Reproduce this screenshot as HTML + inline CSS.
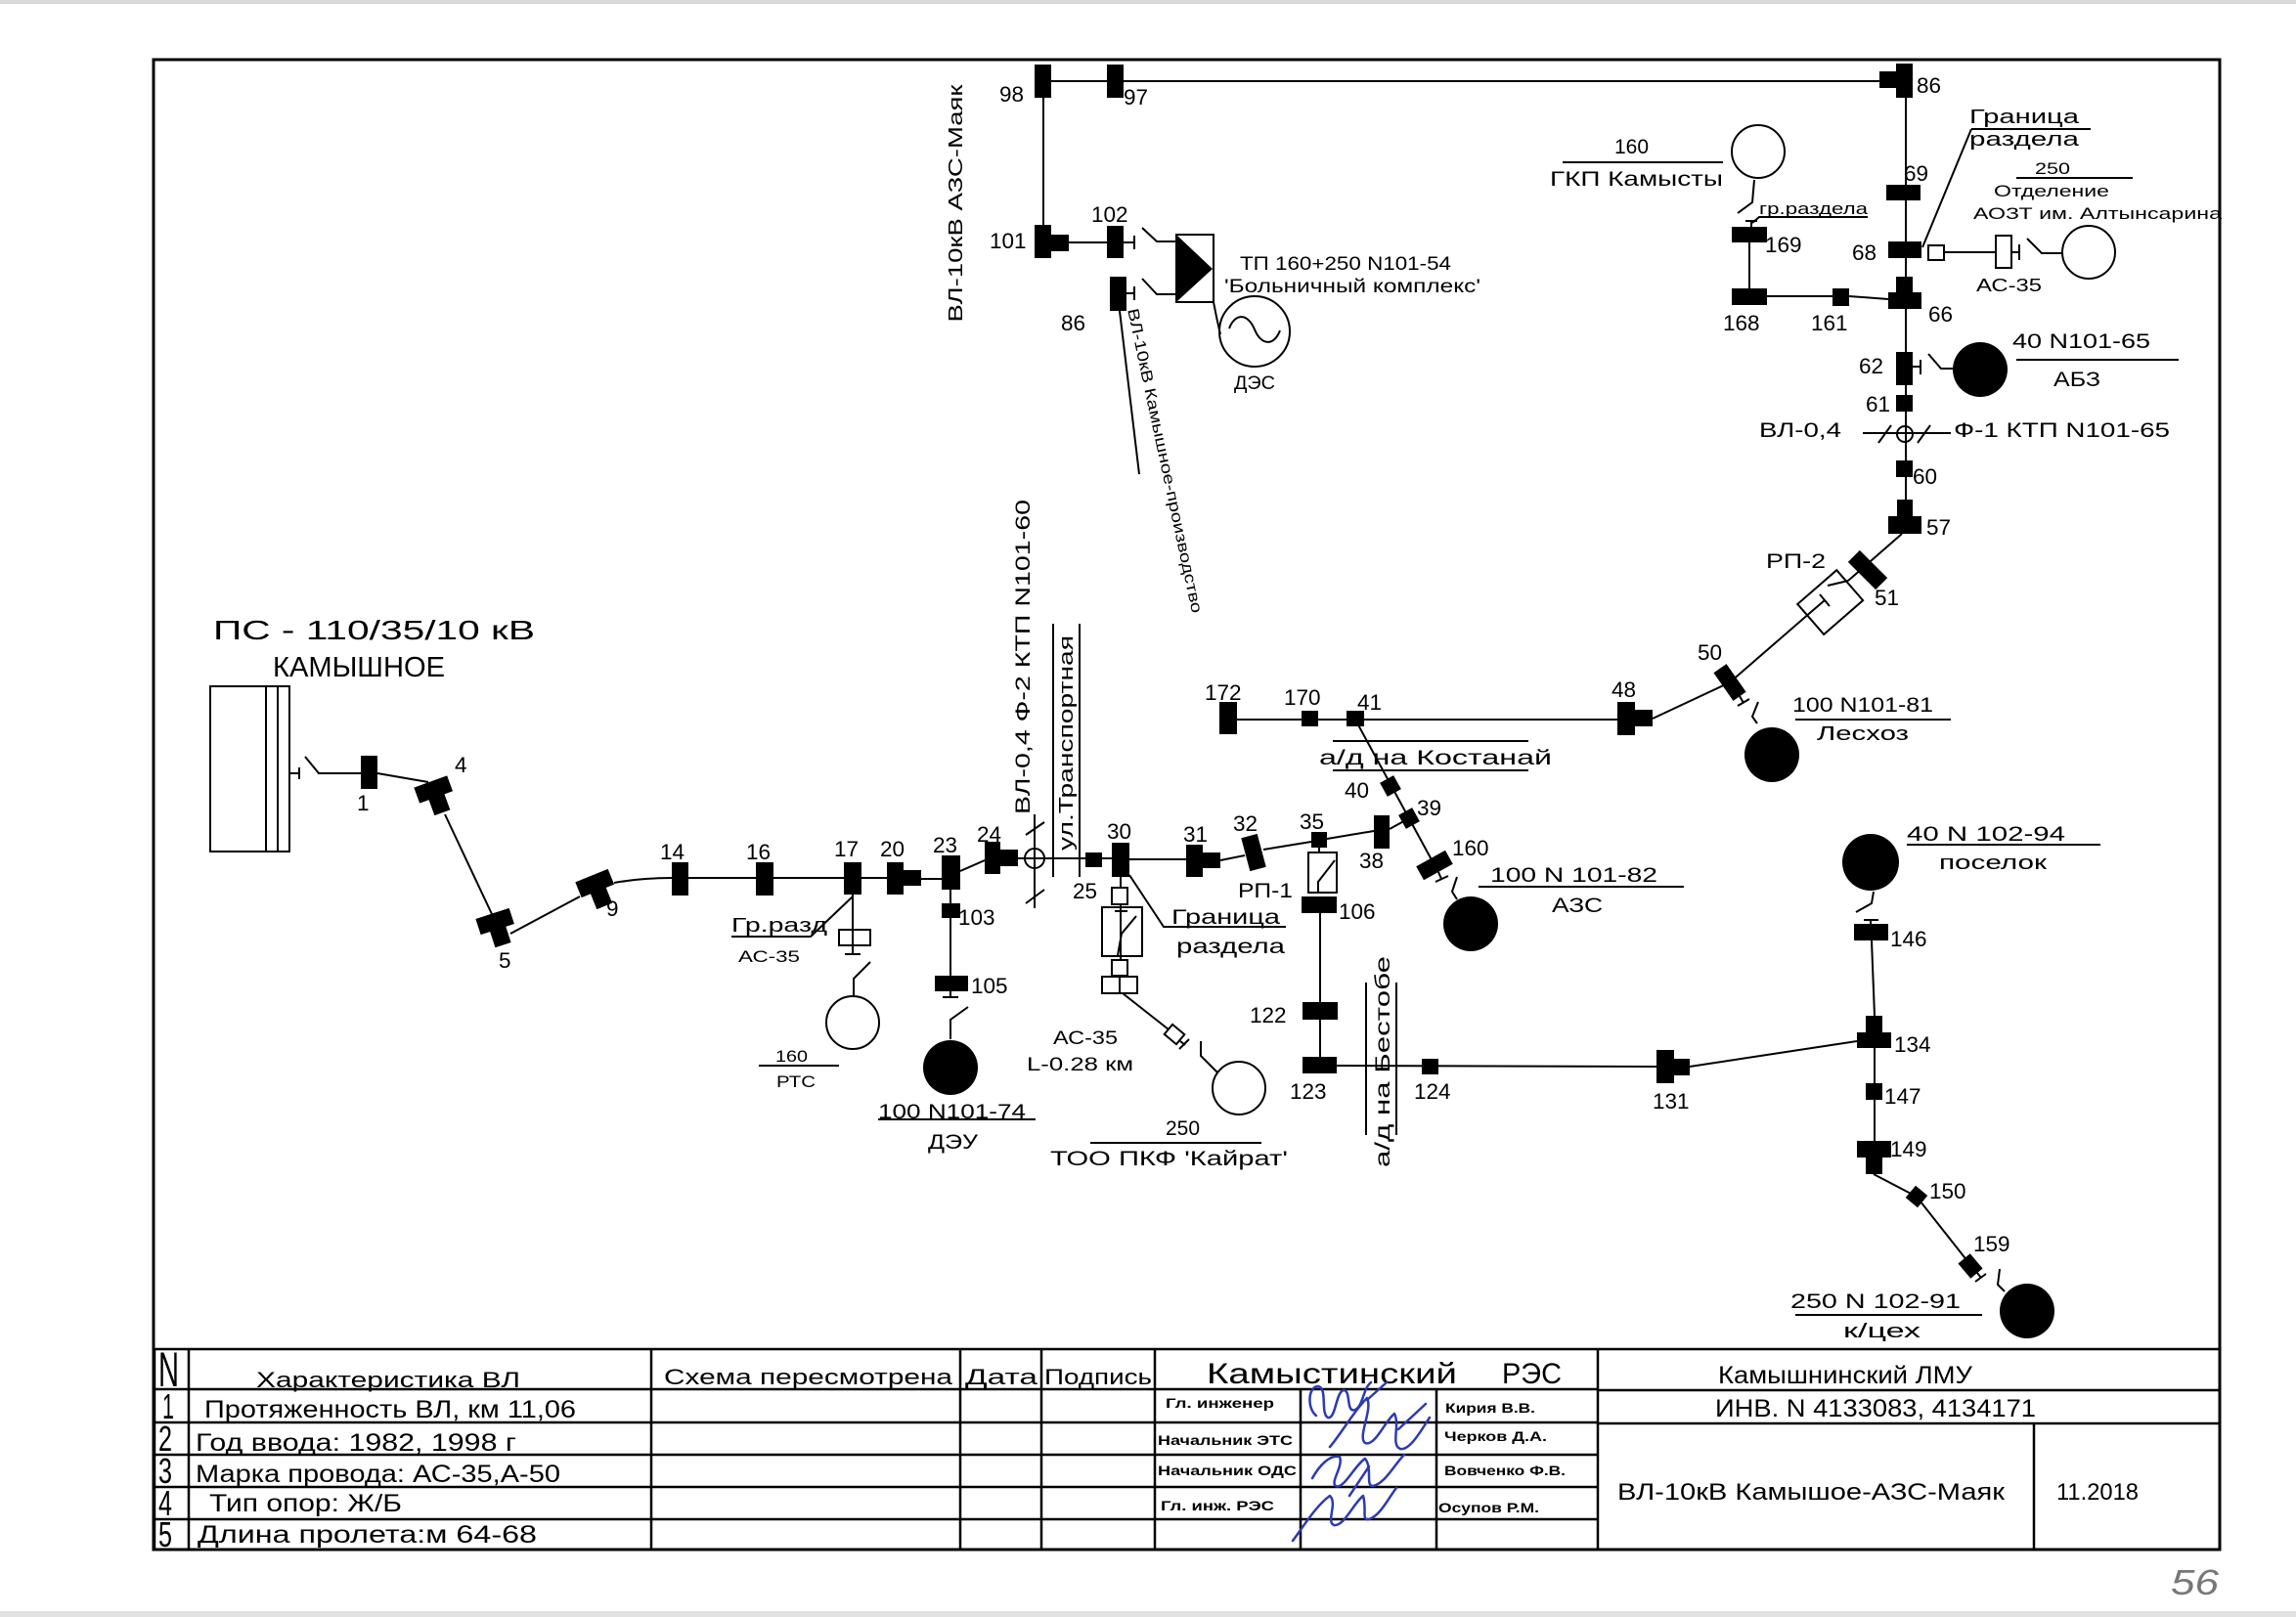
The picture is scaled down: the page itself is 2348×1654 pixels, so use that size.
<!DOCTYPE html>
<html><head><meta charset="utf-8"><style>
html,body{margin:0;padding:0;background:#fff}
svg{display:block}
text{font-family:"Liberation Sans","DejaVu Sans",sans-serif;fill:#000}
.l{stroke:#000;stroke-width:2;fill:none}
.w{stroke:#000;stroke-width:2;fill:#fff}
.b{fill:#000}
.sig{stroke:#2b3bb0;stroke-width:2.5;fill:none;stroke-linecap:round;stroke-linejoin:round}
</style></head><body>
<svg width="2348" height="1654" viewBox="0 0 2348 1654" xmlns="http://www.w3.org/2000/svg">
<rect width="2348" height="1654" fill="#fff"/>
<rect x="0" y="0" width="2348" height="4" fill="#d8d8d8"/>
<rect x="0" y="1648" width="2348" height="6" fill="#e2e2e2"/>
<rect x="157" y="61" width="2113" height="1524" fill="none" stroke="#000" stroke-width="3"/>

<!-- ===== TOP FEEDER ===== -->
<g class="l">
<line x1="1066" y1="83" x2="1945" y2="83"/>
<line x1="1067" y1="100" x2="1067" y2="247"/>
<line x1="1093" y1="248" x2="1140" y2="248"/>
<path d="M1149 248H1160M1160 241V255"/>
<path d="M1168 233L1183 247H1203"/>
<path d="M1152 300H1160M1160 293V307"/>
<path d="M1168 285L1183 301H1203"/>
<rect x="1203" y="240" width="38" height="69"/>
<line x1="1145" y1="318" x2="1165" y2="485"/>
<path d="M1241 309Q1244 325 1248 342"/>
<circle cx="1283" cy="339" r="36"/>
<path d="M1257 336C1263 320 1276 320 1283 337C1290 354 1303 354 1309 338"/>
</g>
<polygon points="1204,241 1240,275 1204,308" class="b"/>
<g class="b">
<rect x="1058" y="66" width="17" height="34"/>
<rect x="1132" y="66" width="17" height="34"/>
<rect x="1058" y="230" width="17" height="34"/><rect x="1075" y="240" width="18" height="17"/>
<rect x="1132" y="231" width="17" height="33"/>
<rect x="1135" y="283" width="17" height="35"/>
</g>

<!-- ===== RIGHT TRUNK ===== -->
<g class="l">
<line x1="1949" y1="100" x2="1949" y2="546"/>
<line x1="1989" y1="258" x2="2065" y2="258"/>
<path d="M2065 250V266"/>
<path d="M2073 244L2088 259H2110"/>
<circle cx="2136" cy="258" r="27"/>
<path d="M2016 132L1966 253M2016 132H2138"/>
<path d="M2062 182H2181"/>
<path d="M1931 306L1891 303"/>
<path d="M1874 303H1807"/>
<path d="M1789 248V295"/>
<path d="M1910 222H1799L1792 228M1785 226H1797M1791 226V232"/>
<path d="M1777 218L1792 207L1794 184"/>
<circle cx="1798" cy="155" r="27"/>
<path d="M1598 166H1762"/>
<path d="M1956 375H1964M1964 368V383"/>
<path d="M1972 362L1985 377H1997"/>
<path d="M2062 368H2228"/>
<circle cx="1948" cy="444" r="8"/>
<path d="M1905 443H1995M1921 453L1934 435M1961 453L1974 435"/>
<path d="M1945 546L1890 594M1890 594L1869 599M1852 626L1866 614M1861 608L1871 620M1852 626L1769 698L1690 735"/>
<rect x="-26" y="-20" width="53" height="41" transform="translate(1871,616) rotate(-41)"/>
<path d="M1779 712L1783 719M1777 722L1789 715"/>
<path d="M1798 718L1792 733L1797 740"/>
<path d="M1836 736H1995"/>
</g>
<g class="w">
<rect x="1972" y="251" width="16" height="15"/>
<rect x="2041" y="241" width="16" height="33"/>
</g>
<g class="b">
<rect x="1939" y="65" width="17" height="35"/><rect x="1922" y="73" width="17" height="17"/>
<rect x="1929" y="189" width="35" height="16"/>
<rect x="1931" y="247" width="34" height="17"/>
<rect x="1939" y="283" width="17" height="17"/><rect x="1931" y="299" width="34" height="17"/>
<rect x="1874" y="295" width="17" height="18"/>
<rect x="1771" y="295" width="36" height="17"/>
<rect x="1771" y="232" width="36" height="16"/>
<rect x="1939" y="360" width="17" height="34"/>
<circle cx="2025" cy="378" r="28"/>
<rect x="1939" y="404" width="17" height="17"/>
<rect x="1939" y="471" width="17" height="17"/>
<rect x="1940" y="511" width="16" height="17"/><rect x="1931" y="528" width="34" height="18"/>
<rect x="-20" y="-8.5" width="40" height="17" transform="translate(1910,583) rotate(45)"/>
<rect x="-17.5" y="-8" width="35" height="16" transform="translate(1769,698) rotate(55)"/>
<circle cx="1812" cy="772" r="28"/>
<rect x="1654" y="718" width="18" height="34"/><rect x="1672" y="726" width="18" height="17"/>
</g>

<!-- ===== MIDDLE BRANCH 172-41-160 ===== -->
<g class="l">
<path d="M1265 736H1654"/>
<path d="M1363 758H1563M1363 788H1563"/>
<path d="M1386 736L1467 885"/>
<path d="M1421 848L1441 837"/>
<path d="M1471 892L1474 899M1468 902L1481 896"/>
<path d="M1490 897L1485 912L1490 920"/>
<path d="M1512 907H1722"/>
</g>
<g class="b">
<rect x="1247" y="718" width="18" height="33"/>
<rect x="1331" y="727" width="17" height="16"/>
<rect x="1377" y="727" width="18" height="16"/>
<rect x="-8" y="-8" width="16" height="16" transform="translate(1422,804) rotate(-29)"/>
<rect x="-8" y="-8" width="16" height="16" transform="translate(1441,837) rotate(-29)"/>
<rect x="-17" y="-8" width="34" height="16" transform="translate(1467,885) rotate(-29)"/>
<circle cx="1504" cy="945" r="28"/>
</g>

<!-- ===== MAIN LINE ===== -->
<rect x="215" y="702" width="81" height="169" class="w"/>
<g class="l">
<path d="M272 702V871M284 702V871"/>
<path d="M296 791H306M306 785V797"/>
<path d="M312 774L326 791H369"/>
<path d="M386 791L438 800"/>
<path d="M455 833L503 935"/>
<path d="M522 955L593 917"/>
<path d="M628 903Q655 898 687 898H907"/>
<path d="M942 899H963"/>
<path d="M982 891L1007 880"/>
<path d="M1041 878H1137"/>
<circle cx="1058" cy="878" r="10"/>
<path d="M1058 833V929M1049 854L1068 841M1049 924L1068 910"/>
<path d="M1077 638V897M1104 638V897"/>
<path d="M1155 879H1213"/>
<path d="M1248 880L1273 875"/>
<path d="M1292 869L1341 861M1357 858L1405 850"/>
<path d="M1342 872H1356M1349 867V872"/>
<rect x="1338" y="872" width="29" height="41"/>
<path d="M1348 913V902L1365 880"/>
<path d="M1350 934V1082"/>
<path d="M1367 1090L1694 1091"/>
<path d="M1397 1005V1161M1428 1005V1161"/>
<path d="M1728 1091L1899 1065"/>
<path d="M1914 962L1917 1039"/>
<path d="M1906 941H1921M1913 941V945"/>
<path d="M1898 933L1914 924L1916 912"/>
<path d="M1950 864H2148"/>
<path d="M1917 1072V1167"/>
<path d="M1916 1201L1960 1224L2016 1295"/>
<path d="M2022 1302L2026 1307M2020 1311L2031 1303"/>
<path d="M2045 1298L2043 1314L2050 1321"/>
<path d="M1836 1345H2027"/>
</g>
<g class="b">
<rect x="369" y="773" width="17" height="34"/>
<g transform="translate(443,807) rotate(-20)"><rect x="-18" y="-8" width="36" height="17"/><rect x="-8" y="8" width="17" height="18"/></g>
<g transform="translate(506,942) rotate(-18)"><rect x="-18" y="-8" width="36" height="17"/><rect x="-8" y="8" width="17" height="18"/></g>
<g transform="translate(608,903) rotate(-22)"><rect x="-18" y="-8" width="36" height="17"/><rect x="-8" y="8" width="17" height="18"/></g>
<rect x="687" y="882" width="17" height="34"/>
<rect x="773" y="882" width="18" height="34"/>
<rect x="863" y="882" width="18" height="33"/>
<rect x="907" y="882" width="17" height="33"/><rect x="924" y="890" width="18" height="16"/>
<rect x="963" y="875" width="19" height="35"/>
<rect x="1007" y="861" width="16" height="33"/><rect x="1023" y="869" width="18" height="17"/>
<rect x="1110" y="872" width="17" height="15"/>
<rect x="1137" y="862" width="18" height="35"/>
<rect x="1213" y="864" width="17" height="33"/><rect x="1230" y="872" width="18" height="16"/>
<rect x="-8.5" y="-17.5" width="17" height="35" transform="translate(1282,872) rotate(-15)"/>
<rect x="1341" y="851" width="16" height="16"/>
<rect x="1405" y="834" width="16" height="34"/>
<rect x="1331" y="917" width="36" height="17"/>
<rect x="1332" y="1025" width="36" height="18"/>
<rect x="1332" y="1081" width="35" height="17"/>
<rect x="1454" y="1083" width="17" height="16"/>
<rect x="1694" y="1074" width="18" height="34"/><rect x="1712" y="1083" width="16" height="17"/>
<rect x="1908" y="1039" width="17" height="17"/><rect x="1899" y="1056" width="35" height="16"/>
<rect x="1896" y="945" width="35" height="17"/>
<circle cx="1913" cy="882" r="29"/>
<rect x="1908" y="1108" width="17" height="17"/>
<rect x="1899" y="1167" width="35" height="17"/><rect x="1908" y="1184" width="17" height="17"/>
<rect x="-8" y="-8" width="16" height="16" transform="translate(1960,1224) rotate(40)"/>
<rect x="-10" y="-8" width="20" height="16" transform="translate(2015,1295) rotate(50)"/>
<circle cx="2073" cy="1341" r="28"/>
</g>

<!-- branch at 17 -->
<g class="l">
<path d="M872 915V976"/>
<path d="M864 976H880"/>
<path d="M872 917L829 958H748"/>
<path d="M890 984L873 1001V1018"/>
<circle cx="872" cy="1046" r="27"/>
<path d="M776 1090H858"/>
</g>
<rect x="858" y="951" width="32" height="16" class="w"/>
<line x1="872" y1="951" x2="872" y2="967" stroke="#000" stroke-width="2"/>

<!-- branch at 23 -->
<g class="l">
<path d="M972 910V1020"/>
<path d="M964 1020H980"/>
<path d="M990 1030L972 1043V1063"/>
<path d="M898 1145H1059"/>
</g>
<g class="b">
<rect x="963" y="924" width="19" height="15"/>
<rect x="956" y="998" width="34" height="16"/>
<circle cx="972" cy="1092" r="28"/>
</g>

<!-- branch at 30 -->
<g class="l">
<path d="M1146 897V1000"/>
<path d="M1140 932H1153"/>
<path d="M1148 1016L1195 1053"/>
<path d="M1207 1065L1212 1069M1206 1073L1216 1063"/>
<path d="M1228 1065V1080L1245 1097"/>
<circle cx="1267" cy="1113" r="27"/>
<path d="M1115 1169H1290"/>
<path d="M1155 895L1190 948H1315"/>
</g>
<g class="w">
<rect x="1137" y="908" width="16" height="17"/>
<rect x="1127" y="928" width="41" height="50" fill="none"/>
<rect x="1137" y="982" width="16" height="16"/>
<rect x="1127" y="999" width="18" height="17"/>
<rect x="1145" y="999" width="18" height="17"/>
<rect x="-8" y="-6.5" width="16" height="13" transform="translate(1201,1058) rotate(40)"/>
</g>
<path d="M1146 928V940M1143 977L1147 955L1162 937" class="l"/>

<!-- ===== TEXT: diagram ===== -->
<g font-size="22.5">
<text x="1022" y="104">98</text>
<text x="1149" y="107">97</text>
<text x="1012" y="254">101</text>
<text x="1116" y="227">102</text>
<text x="1085" y="338">86</text>
<text x="1960" y="95">86</text>
<text x="1947" y="185">69</text>
<text x="1894" y="266">68</text>
<text x="1805" y="258">169</text>
<text x="1762" y="338">168</text>
<text x="1852" y="338">161</text>
<text x="1972" y="329">66</text>
<text x="1901" y="382">62</text>
<text x="1908" y="421">61</text>
<text x="1956" y="495">60</text>
<text x="1970" y="547">57</text>
<text x="1917" y="619">51</text>
<text x="1736" y="675">50</text>
<text x="1648" y="713">48</text>
<text x="1232" y="716">172</text>
<text x="1313" y="721">170</text>
<text x="1388" y="726">41</text>
<text x="1375" y="816">40</text>
<text x="1449" y="834">39</text>
<text x="1485" y="875">160</text>
<text x="1390" y="888">38</text>
<text x="1329" y="848">35</text>
<text x="1261" y="850">32</text>
<text x="1210" y="861">31</text>
<text x="1132" y="858">30</text>
<text x="1097" y="919">25</text>
<text x="999" y="861">24</text>
<text x="954" y="872">23</text>
<text x="900" y="876">20</text>
<text x="853" y="876">17</text>
<text x="763" y="879">16</text>
<text x="675" y="879">14</text>
<text x="620" y="937">9</text>
<text x="510" y="990">5</text>
<text x="465" y="790">4</text>
<text x="365" y="829">1</text>
<text x="980" y="946">103</text>
<text x="993" y="1016">105</text>
<text x="1369" y="940">106</text>
<text x="1278" y="1046">122</text>
<text x="1319" y="1124">123</text>
<text x="1446" y="1124">124</text>
<text x="1690" y="1134">131</text>
<text x="1933" y="968">146</text>
<text x="1937" y="1076">134</text>
<text x="1927" y="1129">147</text>
<text x="1933" y="1183">149</text>
<text x="1973" y="1226">150</text>
<text x="2018" y="1280">159</text>
</g>

<g font-size="19">
<text x="1268" y="276" textLength="216" lengthAdjust="spacingAndGlyphs">ТП 160+250 N101-54</text>
<text x="1252" y="299" textLength="262" lengthAdjust="spacingAndGlyphs">'Больничный комплекс'</text>
<text x="1262" y="398" textLength="42" lengthAdjust="spacingAndGlyphs">ДЭС</text>
</g>
<text transform="translate(977,208) rotate(-90)" x="0" y="7" font-size="20" text-anchor="middle" textLength="243" lengthAdjust="spacingAndGlyphs">ВЛ-10кВ  АЗС-Маяк</text>
<text transform="translate(1192,471) rotate(78)" x="0" y="6" font-size="16" text-anchor="middle" textLength="318" lengthAdjust="spacingAndGlyphs">ВЛ-10кВ Камышное-производство</text>
<text transform="translate(1045,672) rotate(-90)" x="0" y="8" font-size="21" text-anchor="middle" textLength="322" lengthAdjust="spacingAndGlyphs">ВЛ-0,4  Ф-2  КТП  N101-60</text>
<text transform="translate(1090,760) rotate(-90)" x="0" y="7" font-size="20" text-anchor="middle" textLength="220" lengthAdjust="spacingAndGlyphs">ул.Транспортная</text>
<text transform="translate(1413,1086) rotate(-90)" x="0" y="8" font-size="21" text-anchor="middle" textLength="216" lengthAdjust="spacingAndGlyphs">а/д на Бестобе</text>

<g font-size="20">
<text x="2014" y="126" textLength="112" lengthAdjust="spacingAndGlyphs">Граница</text>
<text x="2014" y="149" textLength="112" lengthAdjust="spacingAndGlyphs">раздела</text>
<text x="1651" y="157" font-size="21">160</text>
<text x="1585" y="190" font-size="21" textLength="177" lengthAdjust="spacingAndGlyphs">ГКП Камысты</text>
<text x="2058" y="356" font-size="21" textLength="141" lengthAdjust="spacingAndGlyphs">40  N101-65</text>
<text x="2100" y="395" font-size="21" textLength="48" lengthAdjust="spacingAndGlyphs">АБЗ</text>
<text x="1799" y="447" font-size="21" textLength="84" lengthAdjust="spacingAndGlyphs">ВЛ-0,4</text>
<text x="1998" y="447" font-size="21" textLength="221" lengthAdjust="spacingAndGlyphs">Ф-1  КТП  N101-65</text>
<text x="1806" y="581" font-size="21" textLength="61" lengthAdjust="spacingAndGlyphs">РП-2</text>
<text x="1833" y="728" font-size="21" textLength="144" lengthAdjust="spacingAndGlyphs">100  N101-81</text>
<text x="1858" y="757" textLength="94" lengthAdjust="spacingAndGlyphs">Лесхоз</text>
<text x="1349" y="782" font-size="21" textLength="238" lengthAdjust="spacingAndGlyphs">а/д на Костанай</text>
<text x="1524" y="902" font-size="21" textLength="171" lengthAdjust="spacingAndGlyphs">100  N  101-82</text>
<text x="1587" y="933" font-size="21" textLength="52" lengthAdjust="spacingAndGlyphs">АЗС</text>
<text x="1950" y="860" font-size="21" textLength="162" lengthAdjust="spacingAndGlyphs">40  N  102-94</text>
<text x="1983" y="889" textLength="110" lengthAdjust="spacingAndGlyphs">поселок</text>
<text x="1831" y="1338" font-size="21" textLength="174" lengthAdjust="spacingAndGlyphs">250  N  102-91</text>
<text x="1885" y="1368" textLength="79" lengthAdjust="spacingAndGlyphs">к/цех</text>
<text x="1198" y="945" font-size="21" textLength="111" lengthAdjust="spacingAndGlyphs">Граница</text>
<text x="1203" y="975" font-size="21" textLength="111" lengthAdjust="spacingAndGlyphs">раздела</text>
<text x="1266" y="918" font-size="21" textLength="56" lengthAdjust="spacingAndGlyphs">РП-1</text>
<text x="1077" y="1068" font-size="19" textLength="66" lengthAdjust="spacingAndGlyphs">АС-35</text>
<text x="1050" y="1095" font-size="19" textLength="109" lengthAdjust="spacingAndGlyphs">L-0.28 км</text>
<text x="1192" y="1161" font-size="21">250</text>
<text x="1074" y="1192" font-size="21" textLength="243" lengthAdjust="spacingAndGlyphs">ТОО ПКФ 'Кайрат'</text>
<text x="898" y="1144" font-size="21" textLength="151" lengthAdjust="spacingAndGlyphs">100  N101-74</text>
<text x="949" y="1175" font-size="21" textLength="51" lengthAdjust="spacingAndGlyphs">ДЭУ</text>
<text x="748" y="953" textLength="98" lengthAdjust="spacingAndGlyphs">Гр.разд</text>
</g>
<g font-size="17">
<text x="2081" y="178" textLength="36" lengthAdjust="spacingAndGlyphs">250</text>
<text x="2039" y="201" textLength="118" lengthAdjust="spacingAndGlyphs">Отделение</text>
<text x="2018" y="224" textLength="254" lengthAdjust="spacingAndGlyphs">АОЗТ  им.  Алтынсарина</text>
<text x="2021" y="298" font-size="18" textLength="67" lengthAdjust="spacingAndGlyphs">АС-35</text>
<text x="1799" y="219" textLength="111" lengthAdjust="spacingAndGlyphs">гр.раздела</text>
<text x="755" y="984" textLength="63" lengthAdjust="spacingAndGlyphs">АС-35</text>
<text x="793" y="1086" textLength="33" lengthAdjust="spacingAndGlyphs">160</text>
<text x="794" y="1112" textLength="40" lengthAdjust="spacingAndGlyphs">РТС</text>
</g>
<text x="218" y="654" font-size="28" textLength="329" lengthAdjust="spacingAndGlyphs">ПС  -  110/35/10  кВ</text>
<text x="279" y="692" font-size="29" textLength="176" lengthAdjust="spacingAndGlyphs">КАМЫШНОЕ</text>

<!-- ===== TITLE BLOCK ===== -->
<g stroke="#000" stroke-width="2.5" fill="none">
<path d="M158 1380H2270M158 1585H2270"/>
<path d="M158 1421H1634M158 1455H1634M158 1488H1634M158 1521H1634M158 1554H1634"/>
<path d="M1634 1422H2270M1634 1456H2270"/>
<path d="M158 1380V1585M193 1380V1585M666 1380V1585M982 1380V1585M1065 1380V1585M1181 1380V1585M1330 1421V1585M1469 1421V1585M1634 1380V1585M2080 1456V1585"/>
</g>
<text x="162" y="1418" font-size="50" textLength="21" lengthAdjust="spacingAndGlyphs">N</text>
<g font-size="36">
<text x="166" y="1451" textLength="12" lengthAdjust="spacingAndGlyphs">1</text>
<text x="162" y="1484" textLength="14" lengthAdjust="spacingAndGlyphs">2</text>
<text x="162" y="1517" textLength="14" lengthAdjust="spacingAndGlyphs">3</text>
<text x="162" y="1550" textLength="14" lengthAdjust="spacingAndGlyphs">4</text>
<text x="162" y="1582" textLength="14" lengthAdjust="spacingAndGlyphs">5</text>
</g>
<g font-size="22">
<text x="262" y="1419" textLength="270" lengthAdjust="spacingAndGlyphs">Характеристика ВЛ</text>
<text x="679" y="1416" textLength="295" lengthAdjust="spacingAndGlyphs">Схема пересмотрена</text>
<text x="987" y="1416" textLength="74" lengthAdjust="spacingAndGlyphs">Дата</text>
<text x="1068" y="1416" textLength="110" lengthAdjust="spacingAndGlyphs">Подпись</text>
</g>
<g font-size="25">
<text x="209" y="1450" textLength="380" lengthAdjust="spacingAndGlyphs">Протяженность ВЛ, км 11,06</text>
<text x="200" y="1484" textLength="328" lengthAdjust="spacingAndGlyphs">Год ввода: 1982, 1998 г</text>
<text x="200" y="1516" textLength="373" lengthAdjust="spacingAndGlyphs">Марка провода: АС-35,А-50</text>
<text x="214" y="1546" textLength="197" lengthAdjust="spacingAndGlyphs">Тип опор: Ж/Б</text>
<text x="202" y="1578" textLength="347" lengthAdjust="spacingAndGlyphs">Длина пролета:м  64-68</text>
</g>
<text x="1234" y="1415" font-size="30" textLength="256" lengthAdjust="spacingAndGlyphs">Камыстинский</text>
<text x="1536" y="1415" font-size="30" textLength="61" lengthAdjust="spacingAndGlyphs">РЭС</text>
<g font-size="14" font-weight="bold">
<text x="1192" y="1440" textLength="111" lengthAdjust="spacingAndGlyphs">Гл. инженер</text>
<text x="1478" y="1445" textLength="92" lengthAdjust="spacingAndGlyphs">Кирия В.В.</text>
<text x="1184" y="1478" textLength="138" lengthAdjust="spacingAndGlyphs">Начальник ЭТС</text>
<text x="1477" y="1474" textLength="105" lengthAdjust="spacingAndGlyphs">Черков Д.А.</text>
<text x="1184" y="1509" textLength="142" lengthAdjust="spacingAndGlyphs">Начальник ОДС</text>
<text x="1477" y="1509" textLength="124" lengthAdjust="spacingAndGlyphs">Вовченко Ф.В.</text>
<text x="1187" y="1545" textLength="116" lengthAdjust="spacingAndGlyphs">Гл. инж. РЭС</text>
<text x="1471" y="1547" textLength="103" lengthAdjust="spacingAndGlyphs">Осупов Р.М.</text>
</g>
<text x="1757" y="1415" font-size="25" textLength="260" lengthAdjust="spacingAndGlyphs">Камышнинский ЛМУ</text>
<text x="1754" y="1449" font-size="25" textLength="328" lengthAdjust="spacingAndGlyphs">ИНВ. N 4133083, 4134171</text>
<text x="1654" y="1534" font-size="24" textLength="396" lengthAdjust="spacingAndGlyphs">ВЛ-10кВ   Камышое-АЗС-Маяк</text>
<text x="2103" y="1534" font-size="24" textLength="84" lengthAdjust="spacingAndGlyphs">11.2018</text>
<text x="2220" y="1631" font-size="36" font-style="italic" style="fill:#777" textLength="49" lengthAdjust="spacingAndGlyphs">56</text>

<!-- signatures -->
<g class="sig">
<path d="M1346 1448C1336 1440 1338 1418 1348 1418C1358 1420 1350 1446 1358 1450C1366 1452 1366 1424 1374 1422C1382 1422 1376 1446 1386 1442C1394 1438 1394 1420 1402 1414"/>
<path d="M1360 1480C1372 1466 1384 1444 1398 1430C1404 1442 1388 1470 1396 1476C1406 1480 1416 1454 1426 1446C1432 1458 1422 1478 1432 1482C1442 1484 1454 1462 1462 1450"/>
<path d="M1342 1512C1350 1498 1360 1488 1370 1490C1374 1500 1360 1516 1366 1520C1374 1524 1386 1498 1396 1492C1404 1502 1396 1520 1404 1520C1416 1518 1426 1498 1436 1488"/>
<path d="M1322 1576C1334 1560 1346 1540 1360 1530C1368 1538 1356 1556 1364 1560C1374 1562 1384 1538 1394 1530C1398 1544 1392 1556 1400 1554C1412 1550 1420 1532 1428 1522"/>
<path d="M1398 1432L1418 1414M1430 1462L1458 1436M1380 1530L1400 1500"/>
</g>
</svg>
</body></html>
